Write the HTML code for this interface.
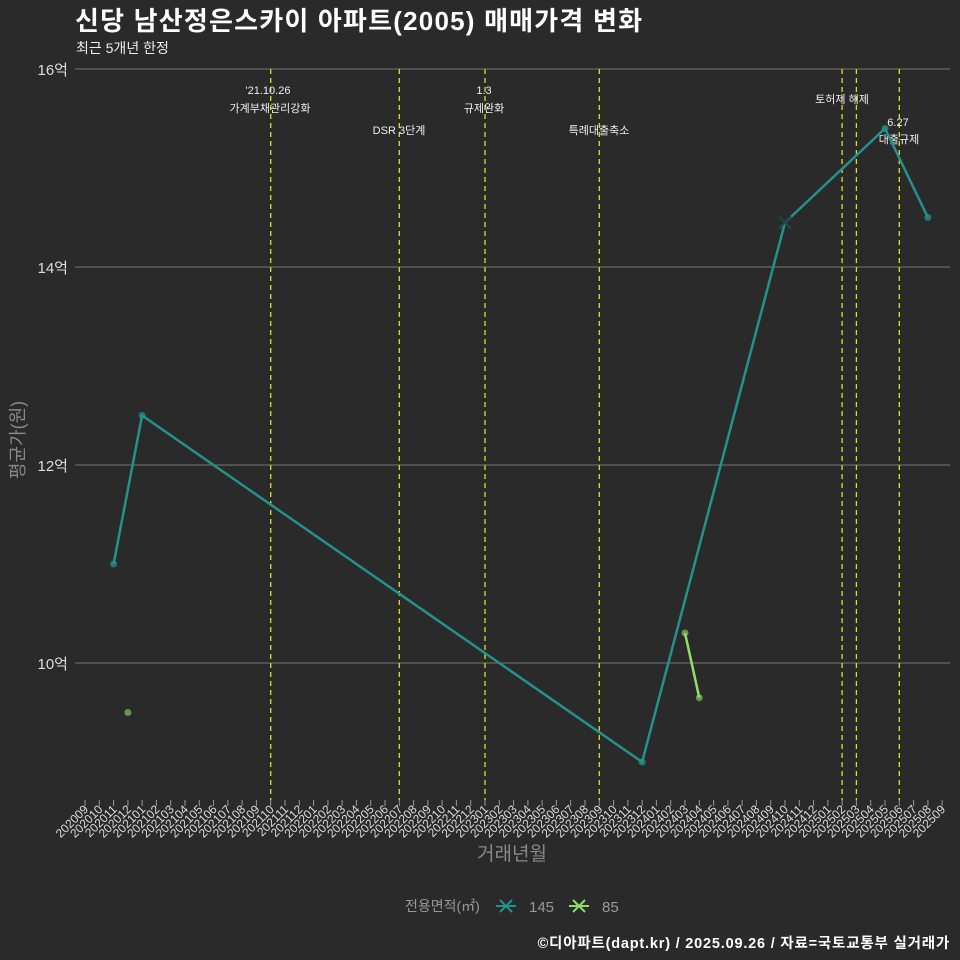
<!DOCTYPE html>
<html><head><meta charset="utf-8"><style>
html,body{margin:0;padding:0;background:#2b2a2b;}
svg{display:block;font-family:"Liberation Sans","Noto Sans CJK KR",sans-serif;}
</style></head><body>
<svg width="960" height="960" viewBox="0 0 960 960">
<rect width="960" height="960" fill="#2b2a2b"/>
<text x="75" y="30" font-size="26" font-weight="bold" fill="#fff" letter-spacing="1.2">신당 남산정은스카이 아파트(2005) 매매가격 변화</text>
<text x="76" y="53" font-size="14" fill="#eee">최근 5개년 한정</text>
<g stroke="#777" stroke-width="1">
<line x1="75" x2="950" y1="69" y2="69"/><line x1="75" x2="950" y1="267" y2="267"/>
<line x1="75" x2="950" y1="465" y2="465"/><line x1="75" x2="950" y1="663" y2="663"/>
</g>
<g font-size="15" fill="#ddd" text-anchor="end">
<text x="68" y="75">16억</text><text x="68" y="273">14억</text><text x="68" y="471">12억</text><text x="68" y="669">10억</text>
</g>
<text transform="translate(24,440) rotate(-90)" font-size="18" fill="#888" text-anchor="middle">평균가(원)</text>
<g stroke="#dede1e" stroke-width="1.3" stroke-dasharray="5,4">
<line x1="270.7" x2="270.7" y1="69" y2="800"/><line x1="399.3" x2="399.3" y1="69" y2="800"/>
<line x1="485" x2="485" y1="69" y2="800"/><line x1="599.3" x2="599.3" y1="69" y2="800"/>
<line x1="842.1" x2="842.1" y1="69" y2="800"/><line x1="856.4" x2="856.4" y1="69" y2="800"/>
<line x1="899.3" x2="899.3" y1="69" y2="800"/>
</g>
<g font-size="11" fill="#eee" text-anchor="middle">
<text x="268" y="94">'21.10.26</text><text x="270" y="112">가계부채관리강화</text>
<text x="399" y="134">DSR 3단계</text>
<text x="484" y="94">1.3</text><text x="484" y="112">규제완화</text>
<text x="599" y="134">특례대출축소</text>
<text x="842" y="103">토허제 해제</text>
<text x="898" y="126">6.27</text><text x="899" y="143">대출규제</text>
</g>
<polyline points="113.6,564 142.1,415.5 642.1,762 785,222.5 885,128.5 927.9,217.5" fill="none" stroke="#23928c" stroke-width="2.5"/>
<polyline points="685,633 699.3,697.7" fill="none" stroke="#8fde6a" stroke-width="2.5"/>
<g fill="#23928c" fill-opacity="0.75">
<circle cx="113.6" cy="564" r="3.5"/><circle cx="142.1" cy="415.5" r="3.5"/><circle cx="642.1" cy="762" r="3.5"/>
<circle cx="885" cy="128.5" r="3.5"/><circle cx="927.9" cy="217.5" r="3.5"/>
</g>
<path d="M779,216.5 L791,228.5 M791,216.5 L779,228.5" stroke="#1a4a48" stroke-width="2"/>
<g fill="#8fde6a" fill-opacity="0.6">
<circle cx="127.9" cy="712.5" r="3.5"/><circle cx="685" cy="633" r="3.5"/><circle cx="699.3" cy="697.7" r="3.5"/>
</g>
<g stroke="#999" stroke-width="1">
<path d="M85,800v6M99.3,800v6M113.6,800v6M127.9,800v6M142.1,800v6M156.4,800v6M170.7,800v6M185,800v6M199.3,800v6M213.6,800v6M227.9,800v6M242.1,800v6M256.4,800v6M270.7,800v6M285,800v6M299.3,800v6M313.6,800v6M327.9,800v6M342.1,800v6M356.4,800v6M370.7,800v6M385,800v6M399.3,800v6M413.6,800v6M427.9,800v6M442.1,800v6M456.4,800v6M470.7,800v6M485,800v6M499.3,800v6M513.6,800v6M527.9,800v6M542.1,800v6M556.4,800v6M570.7,800v6M585,800v6M599.3,800v6M613.6,800v6M627.9,800v6M642.1,800v6M656.4,800v6M670.7,800v6M685,800v6M699.3,800v6M713.6,800v6M727.9,800v6M742.1,800v6M756.4,800v6M770.7,800v6M785,800v6M799.3,800v6M813.6,800v6M827.9,800v6M842.1,800v6M856.4,800v6M870.7,800v6M885,800v6M899.3,800v6M913.6,800v6M927.9,800v6M942.1,800v6"/>
</g>
<g font-size="12" fill="#ddd" text-anchor="end">
<text transform="translate(89,810) rotate(-45)">202009</text>
<text transform="translate(103.3,810) rotate(-45)">202010</text>
<text transform="translate(117.6,810) rotate(-45)">202011</text>
<text transform="translate(131.9,810) rotate(-45)">202012</text>
<text transform="translate(146.1,810) rotate(-45)">202101</text>
<text transform="translate(160.4,810) rotate(-45)">202102</text>
<text transform="translate(174.7,810) rotate(-45)">202103</text>
<text transform="translate(189,810) rotate(-45)">202104</text>
<text transform="translate(203.3,810) rotate(-45)">202105</text>
<text transform="translate(217.6,810) rotate(-45)">202106</text>
<text transform="translate(231.9,810) rotate(-45)">202107</text>
<text transform="translate(246.1,810) rotate(-45)">202108</text>
<text transform="translate(260.4,810) rotate(-45)">202109</text>
<text transform="translate(274.7,810) rotate(-45)">202110</text>
<text transform="translate(289,810) rotate(-45)">202111</text>
<text transform="translate(303.3,810) rotate(-45)">202112</text>
<text transform="translate(317.6,810) rotate(-45)">202201</text>
<text transform="translate(331.9,810) rotate(-45)">202202</text>
<text transform="translate(346.1,810) rotate(-45)">202203</text>
<text transform="translate(360.4,810) rotate(-45)">202204</text>
<text transform="translate(374.7,810) rotate(-45)">202205</text>
<text transform="translate(389,810) rotate(-45)">202206</text>
<text transform="translate(403.3,810) rotate(-45)">202207</text>
<text transform="translate(417.6,810) rotate(-45)">202208</text>
<text transform="translate(431.9,810) rotate(-45)">202209</text>
<text transform="translate(446.1,810) rotate(-45)">202210</text>
<text transform="translate(460.4,810) rotate(-45)">202211</text>
<text transform="translate(474.7,810) rotate(-45)">202212</text>
<text transform="translate(489,810) rotate(-45)">202301</text>
<text transform="translate(503.3,810) rotate(-45)">202302</text>
<text transform="translate(517.6,810) rotate(-45)">202303</text>
<text transform="translate(531.9,810) rotate(-45)">202304</text>
<text transform="translate(546.1,810) rotate(-45)">202305</text>
<text transform="translate(560.4,810) rotate(-45)">202306</text>
<text transform="translate(574.7,810) rotate(-45)">202307</text>
<text transform="translate(589,810) rotate(-45)">202308</text>
<text transform="translate(603.3,810) rotate(-45)">202309</text>
<text transform="translate(617.6,810) rotate(-45)">202310</text>
<text transform="translate(631.9,810) rotate(-45)">202311</text>
<text transform="translate(646.1,810) rotate(-45)">202312</text>
<text transform="translate(660.4,810) rotate(-45)">202401</text>
<text transform="translate(674.7,810) rotate(-45)">202402</text>
<text transform="translate(689,810) rotate(-45)">202403</text>
<text transform="translate(703.3,810) rotate(-45)">202404</text>
<text transform="translate(717.6,810) rotate(-45)">202405</text>
<text transform="translate(731.9,810) rotate(-45)">202406</text>
<text transform="translate(746.1,810) rotate(-45)">202407</text>
<text transform="translate(760.4,810) rotate(-45)">202408</text>
<text transform="translate(774.7,810) rotate(-45)">202409</text>
<text transform="translate(789,810) rotate(-45)">202410</text>
<text transform="translate(803.3,810) rotate(-45)">202411</text>
<text transform="translate(817.6,810) rotate(-45)">202412</text>
<text transform="translate(831.9,810) rotate(-45)">202501</text>
<text transform="translate(846.1,810) rotate(-45)">202502</text>
<text transform="translate(860.4,810) rotate(-45)">202503</text>
<text transform="translate(874.7,810) rotate(-45)">202504</text>
<text transform="translate(889,810) rotate(-45)">202505</text>
<text transform="translate(903.3,810) rotate(-45)">202506</text>
<text transform="translate(917.6,810) rotate(-45)">202507</text>
<text transform="translate(931.9,810) rotate(-45)">202508</text>
<text transform="translate(946.1,810) rotate(-45)">202509</text>
</g>
<text x="512" y="860" font-size="19" fill="#888" text-anchor="middle">거래년월</text>
<text x="405" y="911" font-size="14" fill="#999">전용면적(㎡)</text>
<path d="M496,906h20M500,900l12,12M512,900l-12,12" stroke="#23928c" stroke-width="2"/>
<text x="529" y="912" font-size="15" fill="#999">145</text>
<path d="M569,906h20M573,900l12,12M585,900l-12,12" stroke="#8fde6a" stroke-width="2"/>
<text x="602" y="912" font-size="15" fill="#999">85</text>
<text x="950" y="948" font-size="14.5" font-weight="bold" fill="#fff" text-anchor="end" letter-spacing="0.8">©디아파트(dapt.kr) / 2025.09.26 / 자료=국토교통부 실거래가</text>
</svg>
</body></html>
